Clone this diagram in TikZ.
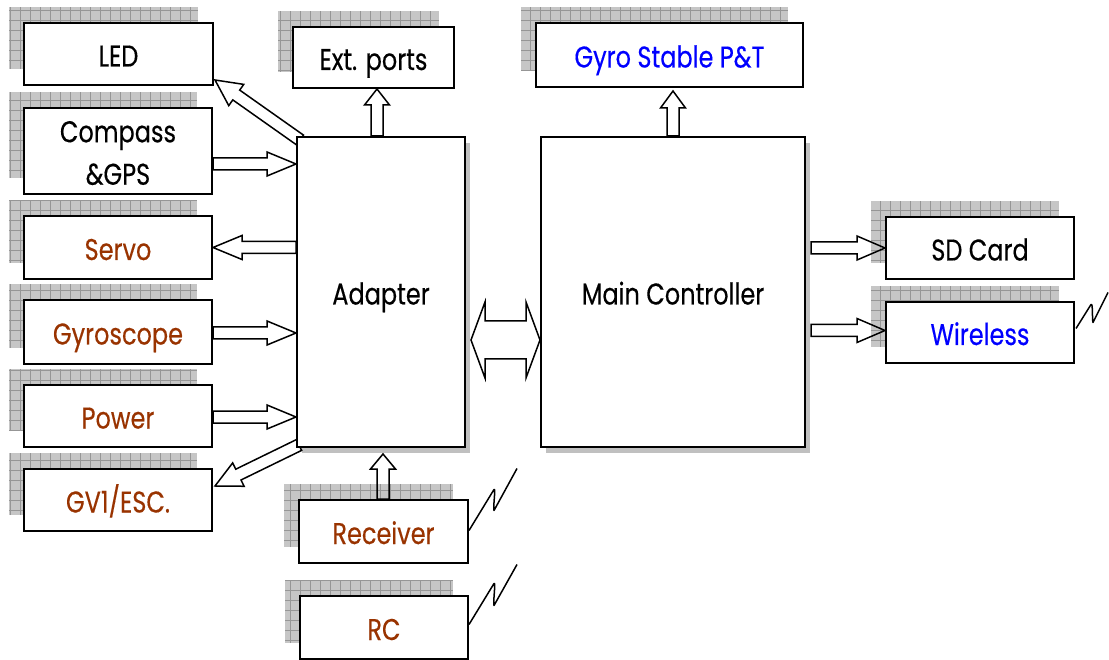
\documentclass[tikz,border=0pt]{standalone}
\usepackage{fontspec}
\setmainfont{Poppins}[FakeBold=0.4]
\usetikzlibrary{calc}
\pgfdeclarelayer{paper}
\pgfdeclarelayer{bg}
\pgfdeclarelayer{arr}
\pgfsetlayers{paper,bg,arr,main}
\definecolor{brn}{RGB}{153,51,0}
\definecolor{blu}{RGB}{0,0,255}
\definecolor{shfill}{RGB}{198,198,198}
\definecolor{shline}{RGB}{150,150,150}
\definecolor{solidsh}{RGB}{192,192,192}
\newcommand{\tall}[1]{\raisebox{-4pt}[\height][\depth]{\scalebox{1}[1.25]{\begin{tabular}{@{}c@{}}#1\end{tabular}}}}
\tikzset{
  box/.style={draw=black, line width=2pt, fill=white, inner sep=0pt, align=center,
              font=\fontsize{24}{34}\selectfont},
  barr/.style={draw=black, line width=1.5pt, line join=miter},
  bolt/.style={draw=black, line width=1.5pt, line join=round},
}
% block arrow: #1 tail, #2 tip, #3 shaft half, #4 head half, #5 head length
\newcommand{\blockarrow}[5]{%
  \draw[barr] let \p1=#1, \p2=#2, \n1={atan2(\y2-\y1,\x2-\x1)}, \n2={veclen(\x2-\x1,\y2-\y1)} in
    [shift={(\p1)}, rotate=\n1]
    (0pt,-#3pt) -- ({\n2-#5pt},-#3pt) -- ({\n2-#5pt},-#4pt) -- ({\n2},0pt) -- ({\n2-#5pt},#4pt) -- ({\n2-#5pt},#3pt) -- (0pt,#3pt) -- cycle;}
% double block arrow
\newcommand{\dblarrow}[5]{%
  \draw[barr] let \p1=#1, \p2=#2, \n1={atan2(\y2-\y1,\x2-\x1)}, \n2={veclen(\x2-\x1,\y2-\y1)} in
    [shift={(\p1)}, rotate=\n1]
    (0pt,0pt) -- (#5pt,-#4pt) -- (#5pt,-#3pt) -- ({\n2-#5pt},-#3pt) -- ({\n2-#5pt},-#4pt) -- ({\n2},0pt)
    -- ({\n2-#5pt},#4pt) -- ({\n2-#5pt},#3pt) -- (#5pt,#3pt) -- (#5pt,#4pt) -- cycle;}
% grid-shadowed box: name, cx, cy, w, h, colour, text
\newcommand{\gbox}[7]{%
  \begin{pgfonlayer}{bg}
    \fill[shfill] ({#2-#4/2-15},{#3-#5/2-16}) rectangle ({#2+#4/2-15},{#3+#5/2-16});
    \draw[shline, line width=0.8pt, step=10pt] ({#2-#4/2-15},{#3-#5/2-16}) grid ({#2+#4/2-15},{#3+#5/2-16});
  \end{pgfonlayer}
  \node[box, minimum width=#4pt, minimum height=#5pt, text=#6] (#1) at (#2,#3) {\tall{#7}};}
\begin{document}
\begin{tikzpicture}[x=1pt, y=-1pt]
\begin{pgfonlayer}{paper}
\useasboundingbox[fill=white] (0,0) rectangle (1109,657);
\end{pgfonlayer}

\gbox{led}{118.5}{54}{189}{62}{black}{LED}
\gbox{ext}{373.5}{57.5}{161}{61}{black}{Ext. ports}
\gbox{gyst}{669.5}{55}{267}{64}{blu}{Gyro Stable P\&T}
\gbox{compass}{118}{151}{188}{86}{black}{Compass\\\&GPS}
\gbox{servo}{118}{247.5}{188}{63}{brn}{Servo}
\gbox{gyro}{118}{332}{188}{64}{brn}{Gyroscope}
\gbox{power}{118}{416}{188}{62}{brn}{Power}
\gbox{gv}{118}{500}{188}{62}{brn}{GV1/ESC.}
\gbox{sd}{980}{248}{188}{62}{black}{SD Card}
\gbox{wl}{980}{332.5}{188}{61}{blu}{Wireless}
\gbox{rx}{383.5}{531.5}{169}{63}{brn}{Receiver}
\gbox{rc}{384}{627.5}{168}{63}{brn}{RC}

% big boxes with solid shadow
\begin{pgfonlayer}{bg}
  \fill[solidsh] (302,143) rectangle (470,453);
  \fill[solidsh] (546,143) rectangle (810,453);
\end{pgfonlayer}
\node[box, minimum width=168pt, minimum height=310pt] (ad) at (381,292) {\tall{Adapter}};
\node[box, minimum width=264pt, minimum height=310pt] (mc) at (673,292) {\tall{Main Controller}};

% connectors
\begin{pgfonlayer}{arr}
  \blockarrow{([shift={(4,4)}]ad.north west)}{([shift={(1,-6)}]led.south east)}{6}{13}{26}
  \blockarrow{([shift={(-4,0)}]ad.north)}{([shift={(-4,0)}]ad.north |- ext.south)}{6}{12.5}{16}
  \coordinate (c1) at ([shift={(0,13)}]compass.east);
  \blockarrow{(c1)}{(c1 -| ad.west)}{6}{12}{29}
  \blockarrow{(servo.east -| ad.west)}{(servo.east)}{6}{12}{29}
  \blockarrow{([shift={(0,1)}]gyro.east)}{([shift={(0,1)}]gyro.east -| ad.west)}{6}{12}{29}
  \blockarrow{([shift={(0,1)}]power.east)}{([shift={(0,1)}]power.east -| ad.west)}{6}{12}{29}
  \blockarrow{([shift={(3,-3)}]ad.south west)}{([shift={(2,18)}]gv.north east)}{6}{13}{26}
  \blockarrow{([shift={(-0.5,0)}]rx.north)}{([shift={(-0.5,6)}]rx.north |- ad.south)}{6}{12.5}{15}
  \dblarrow{([shift={(5,48)}]ad.east)}{([shift={(0,48)}]mc.west)}{19}{38}{14}
  \blockarrow{(mc.north)}{([shift={(0,3)}]mc.north |- gyst.south)}{6}{12.5}{17}
  \blockarrow{([shift={(5,0)}]sd.west -| mc.east)}{(sd.west)}{6}{12}{28}
  \blockarrow{([shift={(5,-2)}]wl.west -| mc.east)}{([shift={(0,-2)}]wl.west)}{6}{12}{28}
\end{pgfonlayer}

% radio links
\draw[bolt] ([shift={(1,-4)}]wl.east) -- ++(15,-24) .. controls +(2,-2) and +(-1,-4) .. ++(2,18) -- ++(15,-30);
\draw[bolt] ([shift={(0,-1)}]rx.east) -- ++(25,-41) .. controls +(2,-2) and +(-1,-5) .. ++(0,21) -- ++(23,-42);
\draw[bolt] ([shift={(0,-3)}]rc.east) -- ++(25,-41) .. controls +(2,-2) and +(-1,-5) .. ++(0,22) -- ++(23,-41);
\end{tikzpicture}
\end{document}
